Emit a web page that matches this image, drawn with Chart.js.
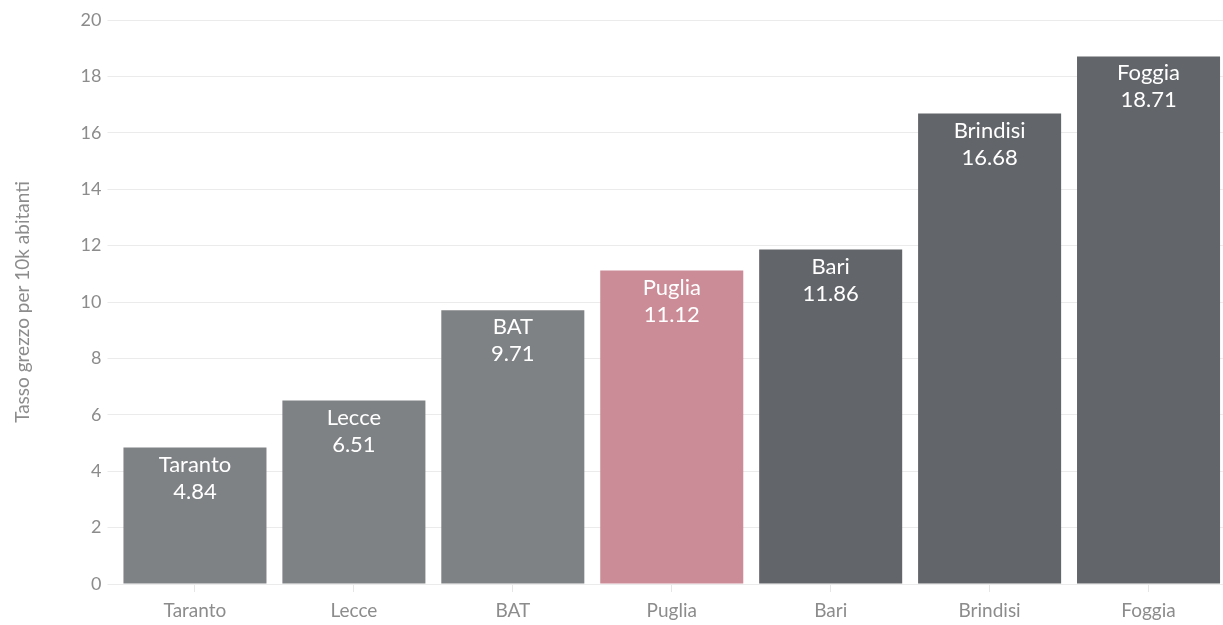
<!DOCTYPE html>
<html>
<head>
<meta charset="utf-8">
<script src="https://cdn.jsdelivr.net/npm/chart.js@4"></script>
<style>
  html, body { margin: 0; padding: 0; background: #fff; overflow: hidden; }
  #wrap { width: 1228px; height: 625px; position: relative; }
</style>
</head>
<body>
<div id="wrap"><canvas id="c"></canvas></div>
<script>
const categories = ["Taranto", "Lecce", "BAT", "Puglia", "Bari", "Brindisi", "Foggia"];
const values = [4.84, 6.51, 9.71, 11.12, 11.86, 16.68, 18.71];
const regionName = "Puglia";
const yAxisTitle = "Tasso grezzo per 10k abitanti";
const yMin = 0, yMax = 20, yStep = 2;

const FONT = "Lato, 'Source Sans Pro', 'Noto Sans', sans-serif";
const regionValue = values[categories.indexOf(regionName)];
const barColors = categories.map((c, i) =>
  c === regionName ? "#cc8c97" : (values[i] < regionValue ? "#7f8285" : "#626569"));

const labelPlugin = {
  id: "barLabels",
  afterDatasetsDraw(chart) {
    const ctx = chart.ctx;
    const meta = chart.getDatasetMeta(0);
    ctx.save();
    ctx.fillStyle = "#ffffff";
    ctx.textAlign = "center";
    ctx.textBaseline = "middle";
    ctx.font = "22px " + FONT;
    meta.data.forEach((el, i) => {
      ctx.fillText(categories[i], el.x, el.y + 17);
      ctx.fillText(values[i].toFixed(2), el.x, el.y + 44);
    });
    ctx.restore();
  }
};

new Chart(document.getElementById("c"), {
  type: "bar",
  data: {
    labels: categories,
    datasets: [{
      data: values,
      backgroundColor: barColors,
      borderWidth: 0,
      barPercentage: 0.9,
      categoryPercentage: 1.0
    }]
  },
  options: {
    responsive: true,
    maintainAspectRatio: false,
    animation: false,
    layout: { padding: { top: 20, left: 0, right: 0, bottom: 0 } },
    plugins: { legend: { display: false }, tooltip: { enabled: false } },
    scales: {
      x: {
        grid: { display: true, drawOnChartArea: false, offset: false, tickLength: 8, color: "#e6e6e6" },
        border: { display: false },
        ticks: { color: "#8c8c8c", font: { family: FONT, size: 19 }, padding: 7 },
        afterFit(scale) { scale.height = 41; }
      },
      y: {
        min: yMin, max: yMax,
        grid: { color: "#ebebeb", tickLength: 8 },
        border: { display: false },
        ticks: { stepSize: yStep, color: "#8c8c8c", font: { family: FONT, size: 18 }, padding: 6 },
        title: { display: true, text: yAxisTitle, color: "#8c8c8c", font: { family: FONT, size: 19 }, padding: { top: 11, bottom: 0 } },
        afterFit(scale) { scale.width = 115.5; }
      }
    }
  },
  plugins: [labelPlugin]
});
</script>
</body>
</html>
